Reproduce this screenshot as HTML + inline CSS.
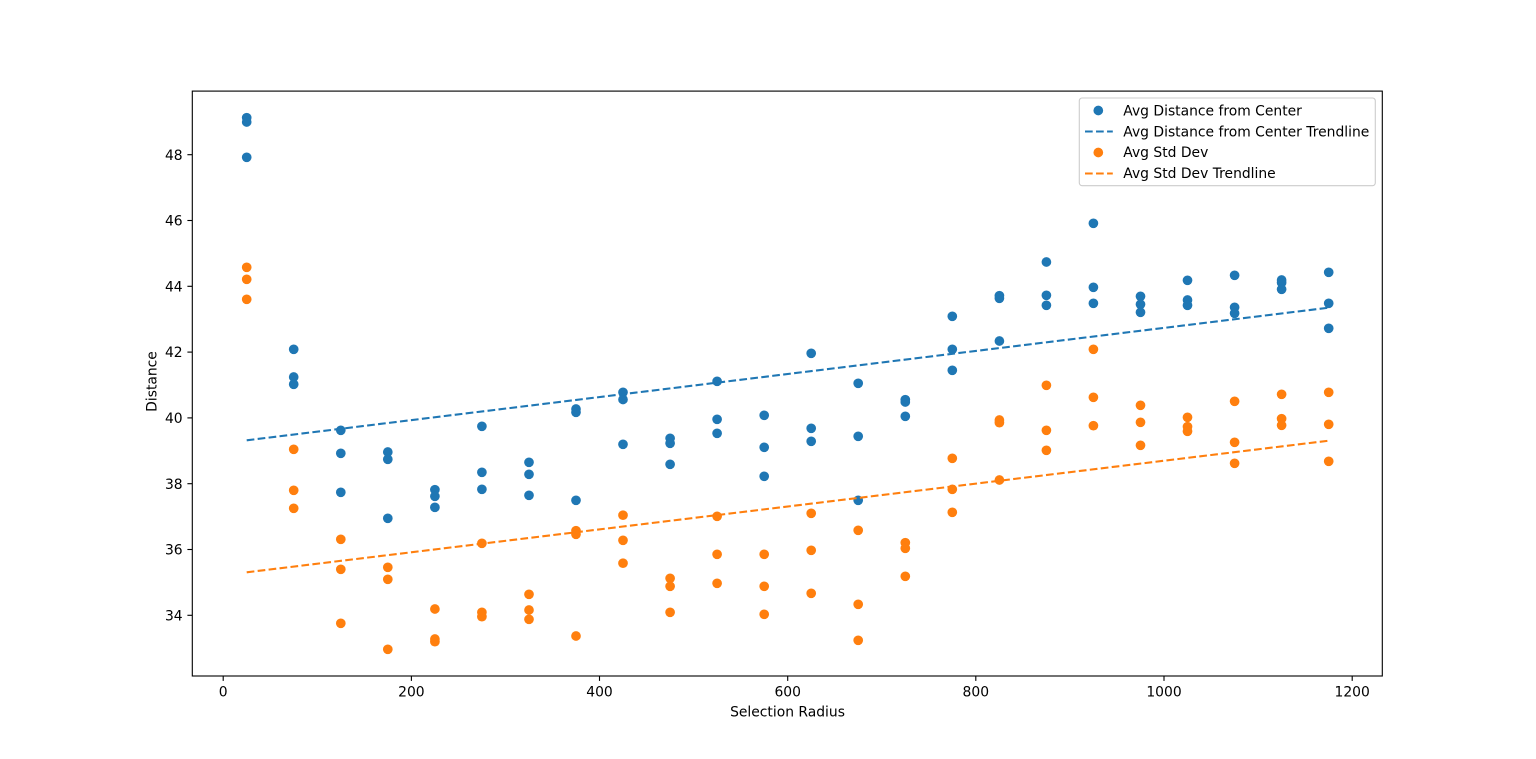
<!DOCTYPE html>
<html>
<head>
<meta charset="utf-8">
<style>
  html, body { margin:0; padding:0; background:#ffffff; }
  svg { display:block; }
  text { font-family: "DejaVu Sans", "Liberation Sans", sans-serif; font-size:13.89px; fill:#000; }
</style>
</head>
<body>
<svg width="1536" height="759" viewBox="0 0 1536 759" xmlns="http://www.w3.org/2000/svg">
  <rect x="0" y="0" width="1536" height="759" fill="#ffffff"/>

  <!-- Blue scatter -->
  <g fill="#1f77b4">
    <circle cx="246.7" cy="117.7" r="4.85"/><circle cx="246.7" cy="122" r="4.85"/><circle cx="246.7" cy="157.3" r="4.85"/>
    <circle cx="293.7" cy="349.3" r="4.85"/><circle cx="293.7" cy="377" r="4.85"/><circle cx="293.7" cy="384.3" r="4.85"/>
    <circle cx="340.8" cy="430.3" r="4.85"/><circle cx="340.8" cy="453.3" r="4.85"/><circle cx="340.8" cy="492.3" r="4.85"/>
    <circle cx="387.8" cy="452" r="4.85"/><circle cx="387.8" cy="459.3" r="4.85"/><circle cx="387.8" cy="518.3" r="4.85"/>
    <circle cx="434.9" cy="489.7" r="4.85"/><circle cx="434.9" cy="496.3" r="4.85"/><circle cx="434.9" cy="507.3" r="4.85"/>
    <circle cx="481.9" cy="426.3" r="4.85"/><circle cx="481.9" cy="472.3" r="4.85"/><circle cx="481.9" cy="489.3" r="4.85"/>
    <circle cx="529.0" cy="462.3" r="4.85"/><circle cx="529.0" cy="474.3" r="4.85"/><circle cx="529.0" cy="495.3" r="4.85"/>
    <circle cx="576.0" cy="409" r="4.85"/><circle cx="576.0" cy="412.3" r="4.85"/><circle cx="576.0" cy="500.3" r="4.85"/>
    <circle cx="623.0" cy="392.3" r="4.85"/><circle cx="623.0" cy="399.5" r="4.85"/><circle cx="623.0" cy="444.3" r="4.85"/>
    <circle cx="670.1" cy="438.3" r="4.85"/><circle cx="670.1" cy="443.3" r="4.85"/><circle cx="670.1" cy="464.3" r="4.85"/>
    <circle cx="717.1" cy="381.3" r="4.85"/><circle cx="717.1" cy="419.3" r="4.85"/><circle cx="717.1" cy="433.3" r="4.85"/>
    <circle cx="764.2" cy="415.3" r="4.85"/><circle cx="764.2" cy="447.3" r="4.85"/><circle cx="764.2" cy="476.3" r="4.85"/>
    <circle cx="811.2" cy="353.3" r="4.85"/><circle cx="811.2" cy="428.3" r="4.85"/><circle cx="811.2" cy="441.3" r="4.85"/>
    <circle cx="858.2" cy="383.3" r="4.85"/><circle cx="858.2" cy="436.3" r="4.85"/><circle cx="858.2" cy="500.3" r="4.85"/>
    <circle cx="905.3" cy="399.7" r="4.85"/><circle cx="905.3" cy="402" r="4.85"/><circle cx="905.3" cy="416.3" r="4.85"/>
    <circle cx="952.3" cy="316.3" r="4.85"/><circle cx="952.3" cy="349.3" r="4.85"/><circle cx="952.3" cy="370.3" r="4.85"/>
    <circle cx="999.4" cy="295.7" r="4.85"/><circle cx="999.4" cy="298.3" r="4.85"/><circle cx="999.4" cy="341" r="4.85"/>
    <circle cx="1046.4" cy="262" r="4.85"/><circle cx="1046.4" cy="295.3" r="4.85"/><circle cx="1046.4" cy="305.3" r="4.85"/>
    <circle cx="1093.4" cy="223.3" r="4.85"/><circle cx="1093.4" cy="287.3" r="4.85"/><circle cx="1093.4" cy="303.3" r="4.85"/>
    <circle cx="1140.5" cy="296.3" r="4.85"/><circle cx="1140.5" cy="304.3" r="4.85"/><circle cx="1140.5" cy="312.3" r="4.85"/>
    <circle cx="1187.5" cy="280.3" r="4.85"/><circle cx="1187.5" cy="300" r="4.85"/><circle cx="1187.5" cy="305.3" r="4.85"/>
    <circle cx="1234.6" cy="275.3" r="4.85"/><circle cx="1234.6" cy="307.3" r="4.85"/><circle cx="1234.6" cy="313.3" r="4.85"/>
    <circle cx="1281.6" cy="280" r="4.85"/><circle cx="1281.6" cy="282.7" r="4.85"/><circle cx="1281.6" cy="289.3" r="4.85"/>
    <circle cx="1328.7" cy="272.3" r="4.85"/><circle cx="1328.7" cy="303.3" r="4.85"/><circle cx="1328.7" cy="328.3" r="4.85"/>
  </g>

  <!-- Blue trendline -->
  <line x1="246.7" y1="440.3" x2="1328.7" y2="307.7" stroke="#1f77b4" stroke-width="2.08" stroke-dasharray="7.7,3.33"/>

  <!-- Orange scatter -->
  <g fill="#ff7f0e">
    <circle cx="246.7" cy="267.3" r="4.85"/><circle cx="246.7" cy="279.3" r="4.85"/><circle cx="246.7" cy="299.3" r="4.85"/>
    <circle cx="293.7" cy="449.3" r="4.85"/><circle cx="293.7" cy="490.3" r="4.85"/><circle cx="293.7" cy="508.3" r="4.85"/>
    <circle cx="340.8" cy="539.3" r="4.85"/><circle cx="340.8" cy="569.3" r="4.85"/><circle cx="340.8" cy="623.3" r="4.85"/>
    <circle cx="387.8" cy="567.3" r="4.85"/><circle cx="387.8" cy="579.3" r="4.85"/><circle cx="387.8" cy="649.3" r="4.85"/>
    <circle cx="434.9" cy="609" r="4.85"/><circle cx="434.9" cy="639" r="4.85"/><circle cx="434.9" cy="641.7" r="4.85"/>
    <circle cx="481.9" cy="543.3" r="4.85"/><circle cx="481.9" cy="612.3" r="4.85"/><circle cx="481.9" cy="616.7" r="4.85"/>
    <circle cx="529.0" cy="594.3" r="4.85"/><circle cx="529.0" cy="610" r="4.85"/><circle cx="529.0" cy="619.3" r="4.85"/>
    <circle cx="576.0" cy="530.7" r="4.85"/><circle cx="576.0" cy="534.3" r="4.85"/><circle cx="576.0" cy="636" r="4.85"/>
    <circle cx="623.0" cy="515.2" r="4.85"/><circle cx="623.0" cy="540.3" r="4.85"/><circle cx="623.0" cy="563.2" r="4.85"/>
    <circle cx="670.1" cy="578.3" r="4.85"/><circle cx="670.1" cy="586.3" r="4.85"/><circle cx="670.1" cy="612.3" r="4.85"/>
    <circle cx="717.1" cy="516.3" r="4.85"/><circle cx="717.1" cy="554.3" r="4.85"/><circle cx="717.1" cy="583.3" r="4.85"/>
    <circle cx="764.2" cy="554.3" r="4.85"/><circle cx="764.2" cy="586.3" r="4.85"/><circle cx="764.2" cy="614.3" r="4.85"/>
    <circle cx="811.2" cy="513.3" r="4.85"/><circle cx="811.2" cy="550.3" r="4.85"/><circle cx="811.2" cy="593.3" r="4.85"/>
    <circle cx="858.2" cy="530.3" r="4.85"/><circle cx="858.2" cy="604.3" r="4.85"/><circle cx="858.2" cy="640.3" r="4.85"/>
    <circle cx="905.3" cy="542.7" r="4.85"/><circle cx="905.3" cy="548.3" r="4.85"/><circle cx="905.3" cy="576.3" r="4.85"/>
    <circle cx="952.3" cy="458.3" r="4.85"/><circle cx="952.3" cy="489.3" r="4.85"/><circle cx="952.3" cy="512.3" r="4.85"/>
    <circle cx="999.4" cy="420" r="4.85"/><circle cx="999.4" cy="422.7" r="4.85"/><circle cx="999.4" cy="480" r="4.85"/>
    <circle cx="1046.4" cy="385.3" r="4.85"/><circle cx="1046.4" cy="430.3" r="4.85"/><circle cx="1046.4" cy="450.3" r="4.85"/>
    <circle cx="1093.4" cy="349.3" r="4.85"/><circle cx="1093.4" cy="397.3" r="4.85"/><circle cx="1093.4" cy="425.7" r="4.85"/>
    <circle cx="1140.5" cy="405.3" r="4.85"/><circle cx="1140.5" cy="422.3" r="4.85"/><circle cx="1140.5" cy="445.3" r="4.85"/>
    <circle cx="1187.5" cy="417.3" r="4.85"/><circle cx="1187.5" cy="426.7" r="4.85"/><circle cx="1187.5" cy="431.3" r="4.85"/>
    <circle cx="1234.6" cy="401.3" r="4.85"/><circle cx="1234.6" cy="442.3" r="4.85"/><circle cx="1234.6" cy="463.3" r="4.85"/>
    <circle cx="1281.6" cy="394.3" r="4.85"/><circle cx="1281.6" cy="418.7" r="4.85"/><circle cx="1281.6" cy="425.3" r="4.85"/>
    <circle cx="1328.7" cy="392.3" r="4.85"/><circle cx="1328.7" cy="424.3" r="4.85"/><circle cx="1328.7" cy="461.3" r="4.85"/>
  </g>

  <!-- Orange trendline -->
  <line x1="246.7" y1="572.3" x2="1328.7" y2="440.7" stroke="#ff7f0e" stroke-width="2.08" stroke-dasharray="7.7,3.33"/>

  <!-- Axes frame -->
  <rect x="192.3" y="91.1" width="1190" height="584.9" fill="none" stroke="#000" stroke-width="1.11"/>

  <!-- X ticks -->
  <g stroke="#000" stroke-width="1.11">
    <line x1="223.2" y1="676" x2="223.2" y2="680.9"/>
    <line x1="411.4" y1="676" x2="411.4" y2="680.9"/>
    <line x1="599.5" y1="676" x2="599.5" y2="680.9"/>
    <line x1="787.7" y1="676" x2="787.7" y2="680.9"/>
    <line x1="975.8" y1="676" x2="975.8" y2="680.9"/>
    <line x1="1164.0" y1="676" x2="1164.0" y2="680.9"/>
    <line x1="1352.2" y1="676" x2="1352.2" y2="680.9"/>
  </g>
  <g text-anchor="middle">
    <text x="223.2" y="696.5">0</text>
    <text x="411.4" y="696.5">200</text>
    <text x="599.5" y="696.5">400</text>
    <text x="787.7" y="696.5">600</text>
    <text x="975.8" y="696.5">800</text>
    <text x="1164.0" y="696.5">1000</text>
    <text x="1352.2" y="696.5">1200</text>
  </g>

  <!-- Y ticks -->
  <g stroke="#000" stroke-width="1.11">
    <line x1="187.4" y1="615.3" x2="192.3" y2="615.3"/>
    <line x1="187.4" y1="549.5" x2="192.3" y2="549.5"/>
    <line x1="187.4" y1="483.7" x2="192.3" y2="483.7"/>
    <line x1="187.4" y1="417.9" x2="192.3" y2="417.9"/>
    <line x1="187.4" y1="352.1" x2="192.3" y2="352.1"/>
    <line x1="187.4" y1="286.3" x2="192.3" y2="286.3"/>
    <line x1="187.4" y1="220.5" x2="192.3" y2="220.5"/>
    <line x1="187.4" y1="154.7" x2="192.3" y2="154.7"/>
  </g>
  <g text-anchor="end">
    <text x="182.6" y="620.4">34</text>
    <text x="182.6" y="554.6">36</text>
    <text x="182.6" y="488.8">38</text>
    <text x="182.6" y="423.0">40</text>
    <text x="182.6" y="357.2">42</text>
    <text x="182.6" y="291.4">44</text>
    <text x="182.6" y="225.6">46</text>
    <text x="182.6" y="159.8">48</text>
  </g>

  <!-- Axis labels -->
  <text x="787.5" y="716.5" text-anchor="middle">Selection Radius</text>
  <text transform="translate(156.5,381.5) rotate(-90)" text-anchor="middle">Distance</text>

  <!-- Legend -->
  <rect x="1079.3" y="98" width="296" height="87.7" rx="2.8" ry="2.8" fill="#ffffff" fill-opacity="0.8" stroke="#cccccc" stroke-width="1.1"/>
  <circle cx="1098.3" cy="110.5" r="4.85" fill="#1f77b4"/>
  <line x1="1085" y1="131.5" x2="1112.8" y2="131.5" stroke="#1f77b4" stroke-width="2.08" stroke-dasharray="7.7,3.33"/>
  <circle cx="1098.3" cy="152.5" r="4.85" fill="#ff7f0e"/>
  <line x1="1085" y1="173.5" x2="1112.8" y2="173.5" stroke="#ff7f0e" stroke-width="2.08" stroke-dasharray="7.7,3.33"/>
  <text x="1123.3" y="115.6">Avg Distance from Center</text>
  <text x="1123.3" y="136.4">Avg Distance from Center Trendline</text>
  <text x="1123.3" y="157.2">Avg Std Dev</text>
  <text x="1123.3" y="178.0">Avg Std Dev Trendline</text>
</svg>
</body>
</html>
